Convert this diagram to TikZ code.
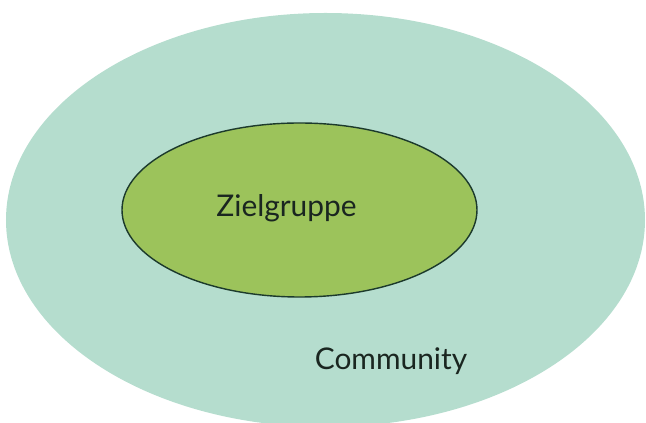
\documentclass[tikz,border=0pt]{standalone}
\usepackage{fontspec}
\setmainfont{Lato}
\definecolor{communityfill}{HTML}{B5DDCE}
\definecolor{zielfill}{HTML}{9CC35B}
\definecolor{zielline}{HTML}{1C3A2C}
\definecolor{textcol}{HTML}{1A2620}
\begin{document}
\begin{tikzpicture}[lbl/.style={text=textcol, font=\fontsize{17}{20}\selectfont, inner sep=0pt, anchor=base}]
		\useasboundingbox (0,0) rectangle (12.92,8.46);
		
		\fill [communityfill] (6.51,4.06) ellipse [x radius=6.39, y radius=4.14];
		
		\draw [zielline, thick, fill=zielfill] (5.99,4.26) ellipse [x radius=3.55, y radius=1.74];
		
		\node [lbl] (ziel) at (5.73, 4.12) {Zielgruppe};
		\node [lbl] (community) at (7.82, 1.06) {Community};
		
		\end{tikzpicture}
\end{document}
